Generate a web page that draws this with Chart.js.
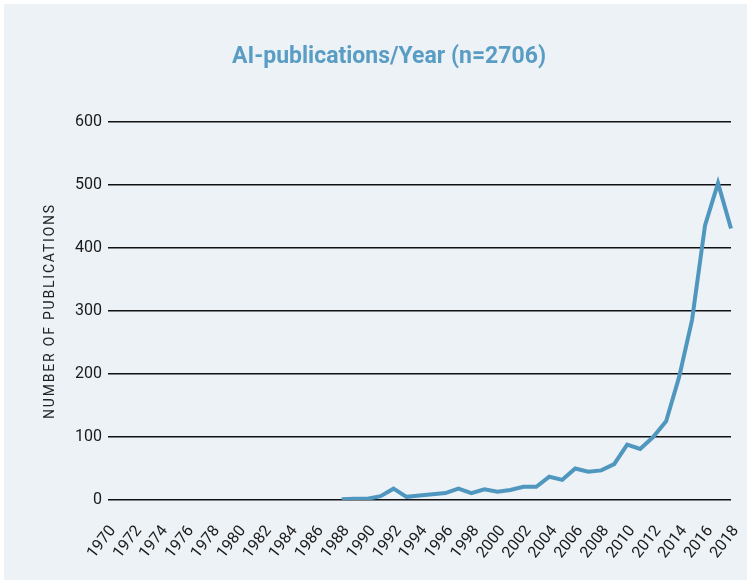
<!DOCTYPE html>
<html>
<head>
<meta charset="utf-8">
<script src="https://cdn.jsdelivr.net/npm/chart.js@4/dist/chart.umd.min.js"></script>
<style>
  html, body { margin: 0; padding: 0; background: #ffffff; }
  #wrap { position: absolute; left: 4px; top: 4px; width: 743px; height: 576px; background: #edf2f6; }
</style>
</head>
<body>
<div id="wrap"><canvas id="myChart" width="743" height="576"></canvas></div>
<script>
// years on the x axis (every year, only even ones are labelled)
var years = [];
for (var y = 1970; y <= 2018; y++) years.push(String(y));

// publications per year (nothing before 1988)
var pubYears = ['1988','1989','1990','1991','1992','1993','1994','1995','1996','1997',
  '1998','1999','2000','2001','2002','2003','2004','2005','2006','2007','2008',
  '2009','2010','2011','2012','2013','2014','2015','2016','2017','2018'];
var pubCounts = [1, 2, 2, 6, 18, 5, 7, 9, 11, 18,
  11, 17, 13, 16, 21, 21, 37, 32, 50, 45, 47,
  57, 88, 81, 100, 125, 195, 286, 436, 503, 431];

var yTicks = [0, 100, 200, 300, 400, 500, 600];

var chartTitle = 'AI-publications/Year (n=2706)';
var yTitle = 'NUMBER OF PUBLICATIONS';

window.onload = function () {
  var series = years.map(function (yr) {
    var i = pubYears.indexOf(yr);
    return i >= 0 ? pubCounts[i] : null;
  });
  loadChart(years, series);
};

// title and spaced-out y axis title, drawn as text on the canvas
var textPlugin = {
  id: 'texts',
  afterDraw: function (chart) {
    var ctx = chart.ctx;
    var area = chart.chartArea;
    ctx.save();
    ctx.fillStyle = '#5a9dc4';
    ctx.font = 'bold 23px Roboto';
    ctx.textAlign = 'center';
    ctx.textBaseline = 'alphabetic';
    ctx.fillText(chartTitle, 385, 59);
    ctx.restore();

    ctx.save();
    ctx.translate(46, (area.top + area.bottom) / 2);
    ctx.rotate(-Math.PI / 2);
    ctx.letterSpacing = '1.8px';
    ctx.fillStyle = '#222222';
    ctx.font = '14px Roboto';
    ctx.textAlign = 'center';
    ctx.textBaseline = 'middle';
    ctx.fillText(yTitle, 0, 0);
    ctx.restore();
  }
};

function loadChart(labels, values) {
  Chart.defaults.font.family = 'Roboto';
  new Chart(document.getElementById('myChart'), {
    type: 'line',
    data: {
      labels: labels,
      datasets: [{
        data: values,
        borderColor: '#4f97bf',
        borderWidth: 4,
        pointRadius: 0,
        tension: 0,
        fill: false,
        spanGaps: false
      }]
    },
    options: {
      responsive: false,
      animation: false,
      layout: { padding: { left: 0, right: 0, top: 118, bottom: 0 } },
      plugins: {
        legend: { display: false },
        tooltip: { enabled: false },
        title: { display: false }
      },
      scales: {
        x: {
          offset: false,
          grid: { display: false, drawTicks: false },
          border: { display: false },
          afterFit: function (scale) {
            scale.height = 80;
            scale.paddingRight = 16;
          },
          ticks: {
            autoSkip: false,
            maxRotation: 52,
            minRotation: 52,
            color: '#1a1a1a',
            font: { size: 16 },
            padding: 22,
            labelOffset: 5,
            callback: function (v) {
              var lab = this.getLabelForValue(v);
              return (Number(lab) % 2 === 0) ? lab : '';
            }
          }
        },
        y: {
          min: yTicks[0],
          max: yTicks[yTicks.length - 1],
          border: { display: false },
          afterFit: function (scale) { scale.width = 104; },
          grid: { color: '#111111', lineWidth: 1.5, drawTicks: false },
          ticks: {
            stepSize: 100,
            color: '#1a1a1a',
            font: { size: 16 },
            padding: 6
          }
        }
      }
    },
    plugins: [textPlugin]
  });
}
</script>
</body>
</html>
